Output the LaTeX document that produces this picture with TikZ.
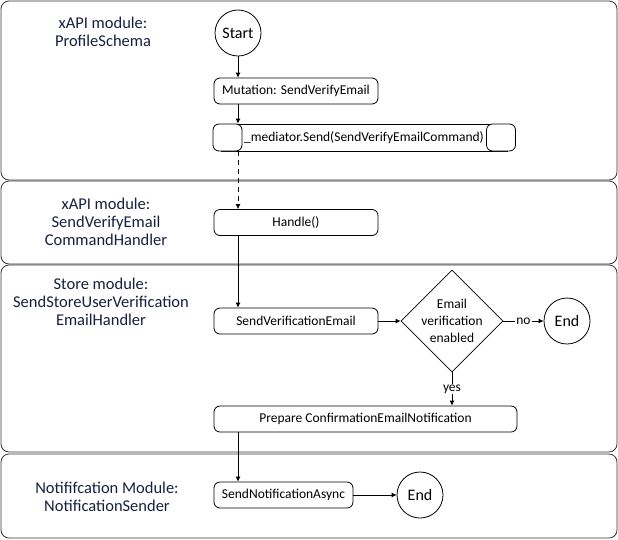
\documentclass[tikz,border=0pt]{standalone}
\usepackage{fontspec}
\setmainfont{Carlito}
\usetikzlibrary{positioning,shapes.geometric,arrows.meta}
\definecolor{lanetext}{RGB}{22,32,62}

\begin{document}
\begin{tikzpicture}[x=1pt,y=-1pt,line width=0.8pt,
lane/.style={draw=black!80, rounded corners=8pt},
lanelabel/.style={text=lanetext, align=center, font=\fontsize{16.5}{18}\selectfont},
terminal/.style={circle, draw, minimum size=46pt, inner sep=0pt, font=\fontsize{16}{18}\selectfont},
action/.style={draw, rounded corners=6pt, minimum height=26pt, inner sep=0pt, font=\fontsize{13.5}{15}\selectfont},
decision/.style={diamond, draw, minimum width=102pt, minimum height=102pt, inner sep=-9pt, align=center, font=\fontsize{13.5}{17}\selectfont},
edgelabel/.style={fill=white, inner sep=1pt, font=\fontsize{13.5}{15}\selectfont},
>={Latex[length=5pt,width=5pt]},
]
\useasboundingbox (0,0) rectangle (618,539);

% swim lanes
\draw[lane] (1,1) rectangle (617,180);
\draw[lane] (1,181) rectangle (617,264);
\draw[lane] (1,265) rectangle (617,452);
\draw[lane] (1,454) rectangle (617,538);

\node[lanelabel] (l1) at (103,32) {xAPI module:\\ProfileSchema};
\node[lanelabel] (l2) at (106,222) {xAPI module:\\SendVerifyEmail\\CommandHandler};
\node[lanelabel] (l3) at (101,302) {Store module:\\SendStoreUserVerification\\EmailHandler};
\node[lanelabel] (l4) at (107,497) {Notififcation Module:\\NotificationSender};

% flow
\node[terminal] (start) at (238,33) {Start};
\node[action, minimum width=164pt] (mut) at (296,91) {Mutation: SendVerifyEmail};
\node[action, minimum width=286pt, minimum height=27pt, rounded corners=0pt] (med) at (364,137.5) {\_mediator.Send(SendVerifyEmailCommand)};
\node[action, minimum width=29pt, minimum height=27pt, fill=white] (medl) at (227.5,137.5) {};
\node[action, minimum width=29pt, minimum height=27pt, fill=white] (medr) at (501,137.5) {};
\node[action, minimum width=164pt] (hdl) at (296,222.5) {Handle()};
\node[action, minimum width=164pt] (sve) at (296,321) {SendVerificationEmail};
\node[decision] (dec) at (452,321) {Email\\verification\\enabled};
\node[terminal] (end1) at (567,321) {End};
\node[action, minimum width=303pt] (prep) at (365.5,419) {Prepare ConfirmationEmailNotification};
\node[action, minimum width=139pt] (sna) at (283.5,495) {SendNotificationAsync};
\node[terminal] (end2) at (420,495) {End};

\path[->]
(start) edge (start |- mut.north)
(start |- mut.south) edge (start |- med.north)
(start |- med.south) edge[dash pattern=on 5pt off 4pt] (start |- hdl.north)
(start |- hdl.south) edge (start |- sve.north)
(sve) edge (dec)
(dec) edge node[edgelabel] {no} (end1)
(dec.south) edge node[edgelabel] {yes} (dec.south |- prep.north)
(start |- prep.south) edge (start |- sna.north)
(sna) edge (end2)
;
\end{tikzpicture}
\end{document}
